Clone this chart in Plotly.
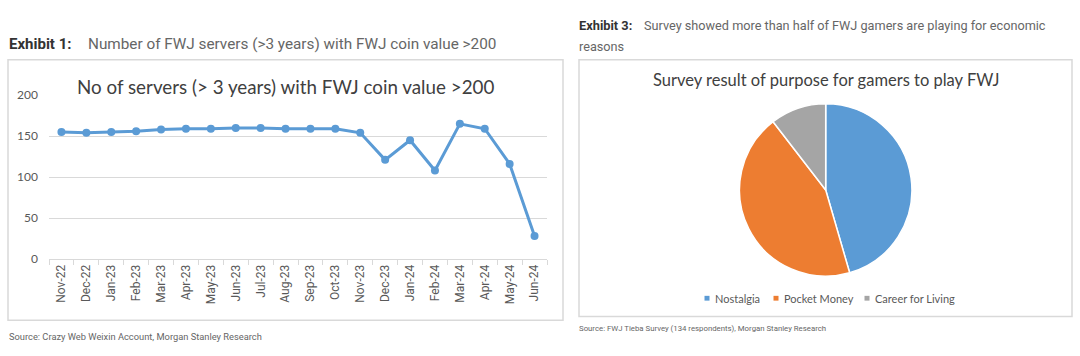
import plotly.graph_objects as go

W, H = 1080, 356

months = ["Nov-22", "Dec-22", "Jan-23", "Feb-23", "Mar-23", "Apr-23", "May-23", "Jun-23",
          "Jul-23", "Aug-23", "Sep-23", "Oct-23", "Nov-23", "Dec-23", "Jan-24", "Feb-24",
          "Mar-24", "Apr-24", "May-24", "Jun-24"]
servers = [155, 154, 155, 156, 158, 159, 159, 160, 160, 159, 159, 159, 154, 121, 145, 108,
           165, 159, 116, 28]
y_ticks = [0, 50, 100, 150, 200]

pie_labels = ["Nostalgia", "Pocket Money", "Career for Living"]
pie_values = [61, 59, 14]
pie_colors = ["#5B9BD5", "#ED7D31", "#A5A5A5"]


def px(x):
    return x / W


def py(y):
    return 1 - y / H


fig = go.Figure()

fig.add_trace(go.Scatter(
    x=months, y=servers, mode="lines+markers",
    line=dict(color="#5B9BD5", width=3),
    marker=dict(color="#5B9BD5", size=8),
    showlegend=False, xaxis="x", yaxis="y",
))

R = 90
fig.add_trace(go.Pie(
    labels=pie_labels, values=pie_values, sort=False, direction="clockwise", rotation=0,
    marker=dict(colors=pie_colors, line=dict(color="white", width=1.5)),
    textinfo="none", hoverinfo="label+percent", showlegend=False,
    domain=dict(x=[px(825.7 - R), px(825.7 + R)], y=[py(190 + R), py(190 - R)]),
))

fig.update_layout(
    width=W, height=H, margin=dict(l=0, r=0, t=0, b=0),
    paper_bgcolor="white", plot_bgcolor="white",
    xaxis=dict(domain=[px(49), px(547)], type="category", tickangle=-90,
               range=[-0.5, len(months) - 0.5],
               tickfont=dict(family="Roboto", size=12, color="#595959"),
               showgrid=False, showline=True, linecolor="#D9D9D9", linewidth=1,
               ticks="outside", ticklen=5, tickcolor="#D9D9D9", tickson="boundaries",
               anchor="y", zeroline=False),
    yaxis=dict(domain=[py(262), py(91)], range=[0, 200], tickvals=y_ticks,
               tickfont=dict(family="Lato", size=12, color="#595959"),
               showgrid=True, gridcolor="#D9D9D9", gridwidth=1, zeroline=False,
               showline=False, ticks="", anchor="x", ticklabelstandoff=10),
)

shapes = [
    dict(type="rect", xref="paper", yref="paper", x0=px(8), x1=px(563), y0=py(326), y1=py(54),
         line=dict(color="#D9D9D9", width=1.5), layer="below"),
    dict(type="rect", xref="paper", yref="paper", x0=px(579), x1=px(1072), y0=py(322), y1=py(54),
         line=dict(color="#D9D9D9", width=1.5), layer="below"),
]
# legend squares
for xm, c in zip([707, 776, 867], pie_colors):
    shapes.append(dict(type="rect", xref="paper", yref="paper", x0=px(xm - 2.5), x1=px(xm + 2.5),
                       y0=py(303 + 2.5), y1=py(303 - 2.5), fillcolor=c, line=dict(width=0)))
fig.update_layout(shapes=shapes)

ann = []


def text(x, y, s, size, color, family="Roboto", xanchor="left", bold=False):
    if bold:
        s = "<b>" + s + "</b>"
    ann.append(dict(xref="paper", yref="paper", x=px(x), y=py(y), text=s, showarrow=False,
                    xanchor=xanchor, yanchor="middle",
                    font=dict(family=family, size=size, color=color)))


text(7, 38, "Exhibit 1:", 15, "#333333", bold=True)
text(86, 38, "Number of FWJ servers (>3 years) with FWJ coin value >200", 15.3, "#666666")
text(577, 18, "Exhibit 3:", 12.8, "#333333", bold=True)
text(642, 18, "Survey showed more than half of FWJ gamers are playing for economic", 12.7, "#666666")
text(577, 40, "reasons", 12.7, "#666666")
text(285.5, 82, "No of servers (> 3 years) with FWJ coin value >200", 18.8, "#404040", family="Lato", xanchor="center")
text(826, 75, "Survey result of purpose for gamers to play FWJ", 16.5, "#404040", family="Lato", xanchor="center")
for xt, lab in zip([713, 782, 873], pie_labels):
    text(xt, 303, lab, 11, "#595959", family="Lato")
text(7, 343, "Source: Crazy Web Weixin Account, Morgan Stanley Research", 9.3, "#666666")
text(577, 335, "Source: FWJ Tieba Survey (134 respondents), Morgan Stanley Research", 7.8, "#666666")

fig.update_layout(annotations=ann)

fig.write_html("out.html", config={"displayModeBar": False},
               post_script="document.body.style.margin='0';document.body.style.overflow='hidden';")
